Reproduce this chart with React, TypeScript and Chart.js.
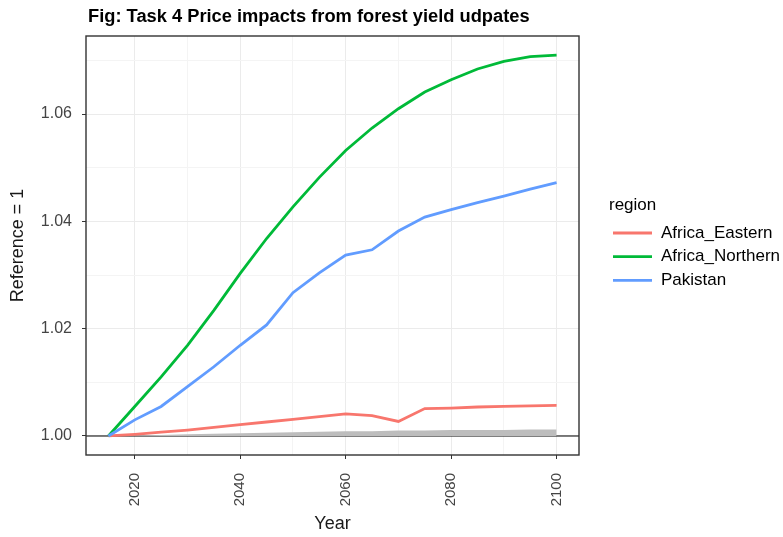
import React, { useEffect, useRef } from "react";
import { Chart, registerables } from "chart.js";

Chart.register(...registerables);

const years = [2015, 2020, 2025, 2030, 2035, 2040, 2045, 2050, 2055, 2060, 2065, 2070, 2075, 2080, 2085, 2090, 2095, 2100];
const africaEastern = [1.0, 1.0003, 1.0007, 1.0011, 1.0016, 1.0021, 1.0026, 1.0031, 1.0036, 1.0041, 1.0038, 1.0027, 1.0051, 1.0052, 1.0054, 1.0055, 1.0056, 1.0057];
const africaNorthern = [1.0, 1.0055, 1.011, 1.0169, 1.0234, 1.0303, 1.0368, 1.0427, 1.0482, 1.0532, 1.0574, 1.061, 1.0641, 1.0664, 1.0684, 1.0698, 1.0707, 1.071];
const pakistan = [1.0, 1.003, 1.0055, 1.0092, 1.0129, 1.0169, 1.0207, 1.0267, 1.0304, 1.0337, 1.0347, 1.0382, 1.0408, 1.0422, 1.0435, 1.0447, 1.046, 1.0472];
const otherRegionsUpper = [1.0, 1.0001, 1.0002, 1.0003, 1.0004, 1.0005, 1.0006, 1.0007, 1.0008, 1.0009, 1.0009, 1.001, 1.001, 1.0011, 1.0011, 1.0011, 1.0012, 1.0012];

const xTicks = [2020, 2030, 2040, 2050, 2060, 2070, 2080, 2090, 2100];
const xLabelled = [2020, 2040, 2060, 2080, 2100];
const yTicks = [1.0, 1.01, 1.02, 1.03, 1.04, 1.05, 1.06, 1.07];
const yLabelled = [1.0, 1.02, 1.04, 1.06];
const refValue = 1;

const seriesNames = ["Africa_Eastern", "Africa_Northern", "Pakistan"];
const seriesColors = ["#F8766D", "#00BA38", "#619CFF"];
const titleText = "Fig: Task 4 Price impacts from forest yield udpates";
const legendTitle = "region";

const FONT = "'Liberation Sans', Arial, Helvetica, sans-serif";

const isLabelled = (arr: number[], v: number) => arr.some((a) => Math.abs(a - v) < 1e-6);

export default function App() {
  const ref = useRef<HTMLCanvasElement | null>(null);

  useEffect(() => {
    if (!ref.current) return;
    const toXY = (vals: number[]) => years.map((x, i) => ({ x, y: vals[i] }));

    const decor = {
      id: "decor",
      beforeDraw(chart: any) {
        const { ctx } = chart;
        ctx.save();
        ctx.fillStyle = "#ffffff";
        ctx.fillRect(0, 0, chart.width, chart.height);
        ctx.restore();
      },
      beforeDatasetsDraw(chart: any) {
        const { ctx, chartArea } = chart;
        const y = chart.scales.y.getPixelForValue(refValue);
        ctx.save();
        ctx.strokeStyle = "#000000";
        ctx.lineWidth = 1.1;
        ctx.beginPath();
        ctx.moveTo(chartArea.left, y);
        ctx.lineTo(chartArea.right, y);
        ctx.stroke();
        ctx.restore();
      },
      afterDraw(chart: any) {
        const { ctx, chartArea } = chart;
        ctx.save();
        ctx.strokeStyle = "#333333";
        ctx.lineWidth = 1.4;
        ctx.strokeRect(chartArea.left, chartArea.top, chartArea.right - chartArea.left, chartArea.bottom - chartArea.top);
        // title
        ctx.fillStyle = "#000000";
        ctx.font = `bold 18.3px ${FONT}`;
        ctx.textBaseline = "middle";
        ctx.textAlign = "left";
        ctx.fillText(titleText, chartArea.left + 2, 17);
        // legend
        ctx.font = `17px ${FONT}`;
        ctx.fillStyle = "#000000";
        ctx.fillText(legendTitle, 609, 205);
        seriesNames.forEach((name, i) => {
          const cy = 233 + i * 23.7;
          ctx.strokeStyle = seriesColors[i];
          ctx.lineWidth = 2.8;
          ctx.beginPath();
          ctx.moveTo(613, cy);
          ctx.lineTo(652, cy);
          ctx.stroke();
          ctx.fillStyle = "#000000";
          ctx.fillText(name, 661, cy);
        });
        ctx.restore();
      },
    };

    const chart = new Chart(ref.current, {
      type: "line",
      data: {
        datasets: [
          {
            label: seriesNames[2],
            data: toXY(pakistan),
            borderColor: seriesColors[2],
            borderWidth: 2.8,
            pointRadius: 0,
            tension: 0,
            fill: false,
          },
          {
            label: seriesNames[1],
            data: toXY(africaNorthern),
            borderColor: seriesColors[1],
            borderWidth: 2.8,
            pointRadius: 0,
            tension: 0,
            fill: false,
          },
          {
            label: seriesNames[0],
            data: toXY(africaEastern),
            borderColor: seriesColors[0],
            borderWidth: 2.8,
            pointRadius: 0,
            tension: 0,
            fill: false,
          },
          {
            label: "other",
            data: toXY(otherRegionsUpper),
            borderColor: "rgba(0,0,0,0)",
            borderWidth: 0,
            backgroundColor: "#bdbdbd",
            pointRadius: 0,
            tension: 0,
            fill: { value: refValue },
          },
        ],
      },
      options: {
        animation: false,
        responsive: false,
        devicePixelRatio: 1,
        layout: { padding: { left: 0, right: 204, top: 36, bottom: 0 } },
        plugins: {
          legend: { display: false },
          tooltip: { enabled: false },
          title: { display: false },
        },
        scales: {
          x: {
            type: "linear",
            min: 2010.75,
            max: 2104.25,
            afterBuildTicks: (scale: any) => {
              scale.ticks = xTicks.map((v) => ({ value: v }));
            },
            afterFit: (scale: any) => {
              scale.height = 82;
            },
            border: { display: false },
            grid: {
              color: (c: any) => (isLabelled(xLabelled, c.tick?.value) ? "#EBEBEB" : "#F4F4F4"),
              lineWidth: 1,
              tickLength: 4,
              tickColor: (c: any) => (isLabelled(xLabelled, c.tick?.value) ? "#333333" : "rgba(0,0,0,0)"),
            },
            ticks: {
              autoSkip: false,
              minRotation: 90,
              maxRotation: 90,
              padding: 14,
              color: "#444444",
              font: { family: FONT, size: 15 },
              callback: (v: any) => (isLabelled(xLabelled, Number(v)) ? String(v) : ""),
            },
            title: {
              display: true,
              text: "Year",
              color: "#1A1A1A",
              font: { family: FONT, size: 18 },
              padding: { top: 0, bottom: 2 },
            },
          },
          y: {
            type: "linear",
            min: 0.99645,
            max: 1.07455,
            afterBuildTicks: (scale: any) => {
              scale.ticks = yTicks.map((v) => ({ value: v }));
            },
            afterFit: (scale: any) => {
              scale.width = 86;
            },
            border: { display: false },
            grid: {
              color: (c: any) => (isLabelled(yLabelled, c.tick?.value) ? "#EBEBEB" : "#F4F4F4"),
              lineWidth: 1,
              tickLength: 4,
              tickColor: (c: any) => (isLabelled(yLabelled, c.tick?.value) ? "#333333" : "rgba(0,0,0,0)"),
            },
            ticks: {
              padding: 10,
              color: "#444444",
              font: { family: FONT, size: 16 },
              callback: (v: any) => (isLabelled(yLabelled, Number(v)) ? Number(v).toFixed(2) : ""),
            },
            title: {
              display: true,
              text: "Reference = 1",
              color: "#1A1A1A",
              font: { family: FONT, size: 18 },
              padding: { top: 7, bottom: 0 },
            },
          },
        },
      },
      plugins: [decor],
    } as any);

    return () => chart.destroy();
  }, []);

  return (
    <div style={{ position: "absolute", left: 0, top: 0, width: 783, height: 537 }}>
      <canvas ref={ref} width={783} height={537} style={{ width: 783, height: 537, display: "block" }} />
    </div>
  );
}
